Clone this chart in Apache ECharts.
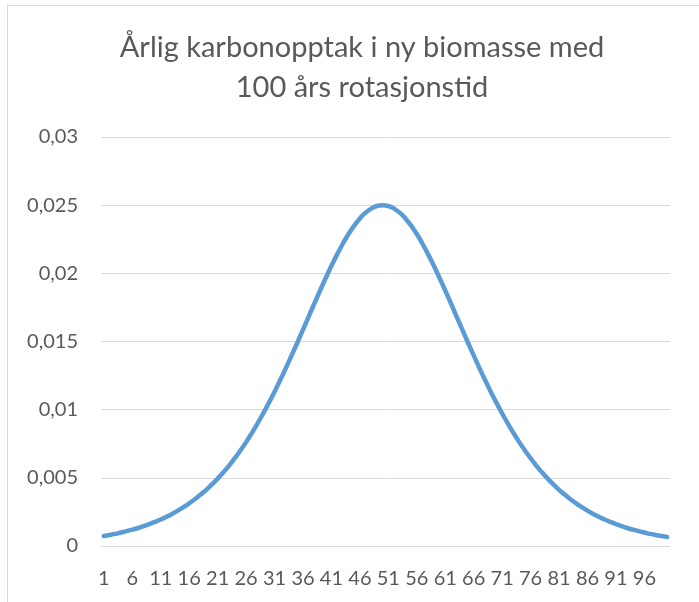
<!DOCTYPE html>
<html>
<head>
<meta charset="utf-8">
<script src="https://cdn.jsdelivr.net/npm/echarts@6/dist/echarts.min.js"></script>
<style>
    html, body { margin: 0; padding: 0; background: #fff; overflow: hidden; width: 699px; height: 602px; }
    #frame { position: absolute; left: 7px; top: 5px; width: 800px; height: 700px; border: 1px solid #d9d9d9; box-sizing: border-box; }
    #chart { position: absolute; left: 0; top: 0; width: 699px; height: 602px; }
</style>
</head>
<body>
<div id="frame"></div>
<div id="chart"></div>
<script>
// år 1..100
let years = []
for (let i = 1; i <= 100; i++) years.push(String(i))

// årlig opptak
let uptake = [
    0.00073, 0.00081, 0.00089, 0.00099, 0.00109, 0.0012, 0.00132, 0.00146, 0.00161, 0.00177,
    0.00194, 0.00214, 0.00235, 0.00259, 0.00285, 0.00313, 0.00343, 0.00377, 0.00412, 0.00452,
    0.00494, 0.0054, 0.0059, 0.00644, 0.00701, 0.00762, 0.00828, 0.00898, 0.00972, 0.0105,
    0.01132, 0.01217, 0.01306, 0.01398, 0.01491, 0.01587, 0.01683, 0.01779, 0.01874, 0.01966,
    0.02055, 0.02139, 0.02217, 0.02288, 0.0235, 0.02403, 0.02445, 0.02475, 0.02494, 0.025,
    0.02494, 0.02475, 0.02445, 0.02403, 0.0235, 0.02288, 0.02217, 0.02139, 0.02055, 0.01966,
    0.01874, 0.01779, 0.01683, 0.01587, 0.01491, 0.01398, 0.01306, 0.01217, 0.01132, 0.0105,
    0.00972, 0.00898, 0.00828, 0.00762, 0.00701, 0.00644, 0.0059, 0.0054, 0.00494, 0.00452,
    0.00412, 0.00377, 0.00343, 0.00313, 0.00285, 0.00259, 0.00235, 0.00214, 0.00194, 0.00177,
    0.00161, 0.00146, 0.00132, 0.0012, 0.00109, 0.00099, 0.00089, 0.00081, 0.00073, 0.00067
]

let yTicks = { min: 0, max: 0.03, step: 0.005 }
let title = 'Årlig karbonopptak i ny biomasse med\n100 års rotasjonstid'

let myChart = echarts.init(document.getElementById('chart'))
let font = 'Lato, "Open Sans", sans-serif'

let option = {
    backgroundColor: 'transparent',
    animation: false,
    title: {
        text: title,
        left: 357,
        top: 23,
        textAlign: 'center',
        textStyle: {
            fontFamily: font,
            fontSize: 29,
            fontWeight: 'normal',
            color: '#595959',
            lineHeight: 40
        }
    },
    grid: { left: 101, right: 29, top: 137, bottom: 56 },
    xAxis: {
        type: 'category',
        data: years,
        boundaryGap: true,
        axisLine: { show: true, lineStyle: { color: '#d9d9d9', width: 1 } },
        axisTick: { show: false },
        axisLabel: {
            interval: 4,
            margin: 23,
            color: '#595959',
            fontSize: 20,
            fontFamily: font
        }
    },
    yAxis: {
        type: 'value',
        min: yTicks.min,
        max: yTicks.max,
        interval: yTicks.step,
        axisLine: { show: false },
        axisTick: { show: false },
        splitLine: { lineStyle: { color: '#d9d9d9', width: 1 } },
        axisLabel: {
            margin: 23,
            color: '#595959',
            fontSize: 20,
            fontFamily: font,
            formatter: function (v) {
                return String(+v.toFixed(4)).replace('.', ',')
            }
        }
    },
    series: [{
        type: 'line',
        data: uptake,
        smooth: true,
        showSymbol: false,
        lineStyle: { color: '#5B9BD5', width: 4.5, cap: 'round' },
        itemStyle: { color: '#5B9BD5' }
    }]
}
myChart.setOption(option)
</script>
</body>
</html>
